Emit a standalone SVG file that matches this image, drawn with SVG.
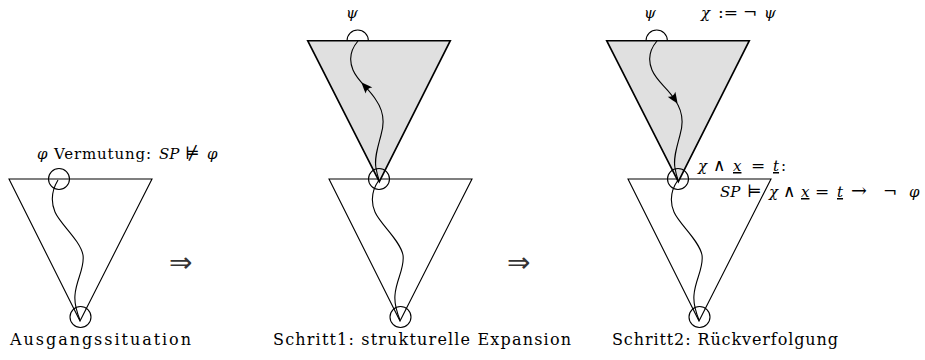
<svg xmlns="http://www.w3.org/2000/svg" width="925" height="360" viewBox="0 0 925 360">
<style>
.tri{fill:none;stroke:#000;stroke-width:1.1}
.gtri{fill:#e0e0e0;stroke:#000;stroke-width:1.6}
.cir{fill:none;stroke:#000;stroke-width:1.1}
.cur{fill:none;stroke:#000;stroke-width:1.1}
.t{font-family:'DejaVu Serif','Liberation Serif',serif;font-size:15px;fill:#000}
.cap{font-size:16px}
.m{font-style:italic}
.sym{font-style:normal;font-size:17px}
.big{font-style:normal;font-size:19px}
.u{text-decoration:underline}
.imp{font-family:'DejaVu Sans',sans-serif;font-size:28px;fill:#333}
</style>
<defs>
<path id="ah" d="M0,0 C-3,-1.5 -7,-3 -11,-4.5 C-8.5,-1.5 -8.5,1.5 -11,4.5 C-7,3 -3,1.5 0,0 Z" fill="#000"/>
</defs>
<rect width="925" height="360" fill="#fff"/>

<g id="panel1">
<path class="tri" d="M9,179 L152,179 L80,321 Z"/>
<circle class="cir" cx="59" cy="179" r="10.5"/>
<circle class="cir" cx="80.5" cy="317" r="10.5"/>
<text class="t" x="37" y="159"><tspan class="m">φ</tspan><tspan x="54" textLength="97" lengthAdjust="spacing">Vermutung:</tspan><tspan x="159" class="m">SP</tspan><tspan x="185" class="sym">⊭</tspan><tspan x="207" class="m">φ</tspan></text>
<text class="t cap" x="10" y="345" textLength="181" lengthAdjust="spacing">Ausgangssituation</text>
</g>

<g id="arrow1"><text class="imp" x="169" y="272">⇒</text></g>

<g id="panel2">
<path class="tri" d="M329,179 L472,179 L400,321 Z"/>
<path class="gtri" d="M307.7,40.7 L450.3,40.7 L379.3,181.7 Z"/>
<path class="cir" d="M347,40.7 A10.7,10.7 0 0 1 368.4,40.7"/>
<circle class="cir" cx="379" cy="179" r="10.5"/>
<circle class="cir" cx="400.5" cy="317" r="10.5"/>
<text class="t m" x="346" y="18">ψ</text>
<text class="t cap" x="273" y="345" textLength="298" lengthAdjust="spacing">Schritt1: strukturelle Expansion</text>
</g>

<g id="arrow2"><text class="imp" x="507" y="272">⇒</text></g>

<g id="panel3">
<path class="tri" d="M628,179 L771,179 L699,321 Z"/>
<path class="gtri" d="M606.7,40.7 L749.3,40.7 L678.3,181.7 Z"/>
<path class="cir" d="M646,40.7 A10.7,10.7 0 0 1 667.4,40.7"/>
<circle class="cir" cx="678" cy="179" r="10.5"/>
<circle class="cir" cx="699.5" cy="317" r="10.5"/>
<text class="t m" x="644" y="18">ψ</text>
<text class="t" y="18"><tspan x="701" class="m">χ</tspan><tspan x="718" class="sym">:=</tspan><tspan x="743" class="sym">¬</tspan><tspan x="764" class="m">ψ</tspan></text>
<text class="t" y="171"><tspan x="698" class="m">χ</tspan><tspan x="713" class="sym">∧</tspan><tspan x="733" class="m u">x</tspan><tspan x="751" class="sym">=</tspan><tspan x="773" class="m u">t</tspan><tspan x="781">:</tspan></text>
<text class="t" y="197"><tspan x="720" class="m">SP</tspan><tspan x="747" class="sym">⊨</tspan><tspan x="769" class="m">χ</tspan><tspan x="783" class="sym">∧</tspan><tspan x="801" class="m u">x</tspan><tspan x="815" class="sym">=</tspan><tspan x="837" class="m u">t</tspan><tspan x="851" class="big">→</tspan><tspan x="883" class="sym">¬</tspan><tspan x="909" class="m">φ</tspan></text>
<text class="t cap" x="612" y="345" textLength="226" lengthAdjust="spacing">Schritt2: Rückverfolgung</text>
</g>

<g id="connectors">
<path class="cur" d="M58,180 C52,190 50,200 55,212 C60,224 80,240 83,255 C85,268 76,280 75,295 C74,305 78,315 80,320"/>
<path class="cur" d="M358,41 C352,48 348,58 353,70 C358,82 369,88 376,100 C383,110 385,122 381,135 C378,147 374,158 376,168 C377,174 378,177 379,180 C372,190 370,200 375,212 C380,224 400,240 403,255 C405,268 396,280 395,295 C394,305 398,315 400,320"/>
<path class="cur" d="M657,41 C651,48 647,58 652,70 C657,82 668,88 675,100 C682,110 684,122 680,135 C677,147 673,158 675,168 C676,174 677,177 678,180 C671,190 669,200 674,212 C679,224 699,240 702,255 C704,268 695,280 694,295 C693,305 697,315 699,320"/>
<use href="#ah" transform="translate(361.5,82.5) rotate(-133)"/>
<use href="#ah" transform="translate(677.5,103.5) rotate(57)"/>
</g>
</svg>
